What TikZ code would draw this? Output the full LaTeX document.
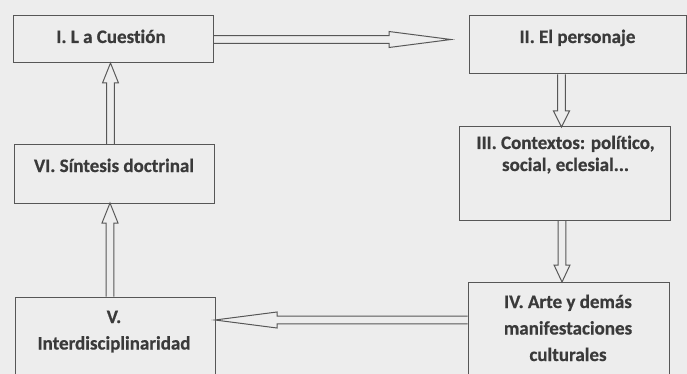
\documentclass[tikz,border=0pt]{standalone}
\usepackage{fontspec}
\setmainfont{Carlito}[Ligatures=NoCommon, BoldFeatures={FakeBold=0.6}]
\usetikzlibrary{calc}
\definecolor{bgc}{HTML}{EDEDED}
\definecolor{linec}{HTML}{575757}
\definecolor{txtc}{HTML}{3A3A3A}
\newcommand{\shaftw}{3.8pt}
\newcommand{\headw}{8pt}
\newcommand{\blockarrow}[3]{%
  \coordinate (bhS) at (#1);
  \coordinate (bhT) at (#2);
  \coordinate (bhH) at ($(bhT)!#3!(bhS)$);
  \draw[blk] ($(bhS)!\shaftw!90:(bhT)$) -- ($(bhH)!\shaftw!90:(bhT)$) -- ($(bhH)!\headw!90:(bhT)$) -- (bhT) -- ($(bhH)!\headw!-90:(bhT)$) -- ($(bhH)!\shaftw!-90:(bhT)$) -- ($(bhS)!\shaftw!-90:(bhT)$);
}
\tikzset{
  boxst/.style={draw=linec, line width=1pt, rectangle, inner sep=0pt},
  txt/.style={text=txtc, font=\fontsize{19pt}{26.5pt}\selectfont\bfseries, align=center, inner sep=0pt, anchor=base},
  blk/.style={draw=linec, line width=1pt, line join=miter}
}
\begin{document}
\begin{tikzpicture}[x=1pt,y=-1pt]
\useasboundingbox (0,0) rectangle (687,374);
\fill[bgc] (0,0) rectangle (687,374);
\clip (0,0) rectangle (687,374);
% boxes
\node[boxst, minimum width=200pt, minimum height=47pt] (b1) at (113,39.5) {};
\node[boxst, minimum width=217pt, minimum height=58pt] (b2) at (577.5,45) {};
\node[boxst, minimum width=211pt, minimum height=93pt] (b3) at (564.5,173.5) {};
\node[boxst, minimum width=201pt, minimum height=110pt] (b4) at (568.5,337) {};
\node[boxst, minimum width=200pt, minimum height=100pt] (b5) at (115,347) {};
\node[boxst, minimum width=200pt, minimum height=58pt] (b6) at (114,174) {};
% texts (anchor base = baseline of the last line)
\node[txt] (l1) at (111,43) {I. L a Cuestión};
\node[txt] (l2) at (577.5,43) {II. El personaje};
\node[txt] (l3) at (565.5,171) {III. Contextos: político,\\[-4.5pt] social, eclesial...};
\node[txt] (l4) at (568,361) {IV. Arte y demás\\ manifestaciones\\ culturales};
\node[txt] (l5) at (114,349.5) {V.\\ Interdisciplinaridad};
\node[txt] (l6) at (114,172) {VI. Síntesis doctrinal};
% arrow end points
\coordinate (t12) at (451,39.5);
\coordinate (t23) at (561.5,127);
\coordinate (t34) at (562,282);
\coordinate (t45) at (215,320);
\coordinate (t56) at (110,203);
\coordinate (t61) at (110.5,63);
% arrows
\blockarrow{b1.east}{t12}{62pt}
\blockarrow{t23 |- b2.south}{t23}{16pt}
\blockarrow{t34 |- b3.south}{t34}{17pt}
\blockarrow{b4.west |- t45}{t45}{62pt}
\blockarrow{t56 |- b5.north}{t56}{20pt}
\blockarrow{t61 |- b6.north}{t61}{20pt}
\end{tikzpicture}
\end{document}
